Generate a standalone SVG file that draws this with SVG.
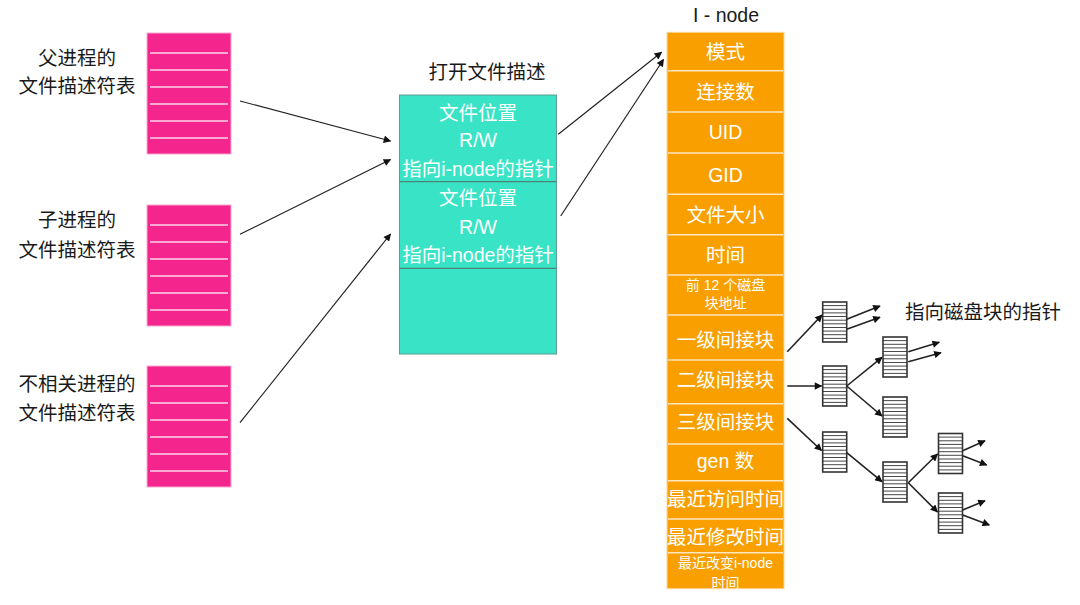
<svg xmlns="http://www.w3.org/2000/svg" width="1080" height="605" viewBox="0 0 1080 605">
<defs>
<marker id="ah" viewBox="0 0 10 10" refX="9" refY="5" markerWidth="10" markerHeight="7.5" markerUnits="userSpaceOnUse" orient="auto">
<path d="M0,0 L10,5 L0,10 z" fill="#111"/>
</marker>
<style>
text{font-family:"Liberation Sans","Noto Sans CJK SC",sans-serif;text-anchor:middle}
.lbl{font-size:19.5px;fill:#1a1a1a}
.w{font-size:19.5px;fill:#ffffff}
.ws{font-size:14px;fill:#ffffff}
.pink{fill:#f5258e;stroke:#f7a9cf;stroke-width:1}
.pl{stroke:#fbd7e8;stroke-width:1.6}
.teal{fill:#38e4c5;stroke:#5e9c90;stroke-width:1}
.tl{stroke:#4f8278;stroke-width:1.2}
.org{fill:#f9a000;stroke:#fcd79a;stroke-width:1}
.ol{stroke:#fde6c0;stroke-width:1.5}
.blk{fill:#ffffff;stroke:#333;stroke-width:1.6}
.bl{stroke:#333;stroke-width:0.9}
.c{fill:none;stroke:#222;stroke-width:1.2;marker-end:url(#ah)}
.t{fill:none;stroke:#222;stroke-width:1.6;marker-end:url(#ah)}
</style>
<g id="fdt">
<rect class="pink" x="0" y="0" width="84" height="121"/>
<line class="pl" x1="3" y1="20" x2="81" y2="20"/>
<line class="pl" x1="3" y1="37" x2="81" y2="37"/>
<line class="pl" x1="3" y1="54" x2="81" y2="54"/>
<line class="pl" x1="3" y1="71" x2="81" y2="71"/>
<line class="pl" x1="3" y1="88" x2="81" y2="88"/>
<line class="pl" x1="3" y1="105" x2="81" y2="105"/>
</g>
<g id="blkdef">
<rect class="blk" x="0" y="0" width="24" height="40"/>
<path class="bl" d="M0,3.6H24M0,7.3H24M0,10.9H24M0,14.5H24M0,18.2H24M0,21.8H24M0,25.5H24M0,29.1H24M0,32.7H24M0,36.4H24"/>
</g>
</defs>
<rect width="1080" height="605" fill="#ffffff"/>

<g id="parent-fdt">
<use href="#fdt" x="147" y="33"/>
<text class="lbl" x="77" y="64.5">父进程的</text>
<text class="lbl" x="77" y="93">文件描述符表</text>
</g>
<g id="child-fdt">
<use href="#fdt" x="147" y="205"/>
<text class="lbl" x="77" y="227">子进程的</text>
<text class="lbl" x="77" y="257">文件描述符表</text>
</g>
<g id="other-fdt">
<use href="#fdt" x="147" y="366"/>
<text class="lbl" x="77" y="391">不相关进程的</text>
<text class="lbl" x="77" y="419.5">文件描述符表</text>
</g>

<g id="open-file-table">
<text class="lbl" x="487" y="78.5">打开文件描述</text>
<rect class="teal" x="399.5" y="95" width="157" height="259"/>
<line class="tl" x1="399.5" y1="181.7" x2="556.5" y2="181.7"/>
<line class="tl" x1="399.5" y1="268.3" x2="556.5" y2="268.3"/>
<text class="w" x="478" y="120">文件位置</text>
<text class="w" x="478" y="147">R/W</text>
<text class="w" x="478" y="175.5">指向i-node的指针</text>
<text class="w" x="478" y="205">文件位置</text>
<text class="w" x="478" y="233.5">R/W</text>
<text class="w" x="478" y="262">指向i-node的指针</text>
</g>

<g id="inode">
<text class="lbl" x="726" y="22">I - node</text>
<rect class="org" x="667" y="32.3" width="117" height="556.4"/>
<g>
<line class="ol" x1="668" y1="70.7" x2="783" y2="70.7"/>
<line class="ol" x1="668" y1="112" x2="783" y2="112"/>
<line class="ol" x1="668" y1="153" x2="783" y2="153"/>
<line class="ol" x1="668" y1="194.3" x2="783" y2="194.3"/>
<line class="ol" x1="668" y1="234.7" x2="783" y2="234.7"/>
<line class="ol" x1="668" y1="275" x2="783" y2="275"/>
<line class="ol" x1="668" y1="315" x2="783" y2="315"/>
<line class="ol" x1="668" y1="360" x2="783" y2="360"/>
<line class="ol" x1="668" y1="403.7" x2="783" y2="403.7"/>
<line class="ol" x1="668" y1="444" x2="783" y2="444"/>
<line class="ol" x1="668" y1="480.7" x2="783" y2="480.7"/>
<line class="ol" x1="668" y1="519" x2="783" y2="519"/>
<line class="ol" x1="668" y1="552.7" x2="783" y2="552.7"/>
</g>
<text class="w" x="725.5" y="58.5">模式</text>
<text class="w" x="725.5" y="98.5">连接数</text>
<text class="w" x="725.5" y="139">UID</text>
<text class="w" x="725.5" y="182">GID</text>
<text class="w" x="725.5" y="222">文件大小</text>
<text class="w" x="725.5" y="262">时间</text>
<text class="ws" x="725.5" y="290">前 12 个磁盘</text>
<text class="ws" x="725.5" y="308.3">块地址</text>
<text class="w" x="725.5" y="347">一级间接块</text>
<text class="w" x="725.5" y="387">二级间接块</text>
<text class="w" x="725.5" y="428.5">三级间接块</text>
<text class="w" x="725.5" y="468">gen 数</text>
<text class="w" x="725.5" y="506.3">最近访问时间</text>
<text class="w" x="725.5" y="543.7">最近修改时间</text>
<text class="ws" x="725.5" y="568.3">最近改变i-node</text>
<text class="ws" x="725.5" y="588">时间</text>
</g>

<g id="disk-blocks">
<use id="blk-a" href="#blkdef" x="822.7" y="302"/>
<use id="blk-b" href="#blkdef" x="822.7" y="366"/>
<use id="blk-c" href="#blkdef" x="883" y="337"/>
<use id="blk-d" href="#blkdef" x="883" y="397"/>
<use id="blk-e" href="#blkdef" x="822.7" y="432"/>
<use id="blk-f" href="#blkdef" x="883" y="462"/>
<use id="blk-g" href="#blkdef" x="938.5" y="433.5"/>
<use id="blk-h" href="#blkdef" x="938.5" y="493"/>
<text class="lbl" x="983" y="318.5">指向磁盘块的指针</text>
</g>

<g id="connectors">
<line class="c" x1="240" y1="101" x2="390.5" y2="141"/>
<line class="c" x1="240" y1="234.3" x2="390.5" y2="159.5"/>
<line class="c" x1="240" y1="422.7" x2="390.5" y2="234"/>
<line class="c" x1="558.3" y1="134.3" x2="661.5" y2="52.3"/>
<line class="c" x1="560.7" y1="216" x2="663.5" y2="59.5"/>
<line class="t" x1="787.3" y1="351.7" x2="822" y2="315"/>
<line class="t" x1="846.7" y1="319.3" x2="880" y2="306"/>
<line class="t" x1="846.7" y1="329.3" x2="880" y2="317.3"/>
<line class="t" x1="787.3" y1="386" x2="821.5" y2="386"/>
<line class="t" x1="846.7" y1="386" x2="882" y2="357.3"/>
<line class="t" x1="846.7" y1="386" x2="882" y2="416"/>
<line class="t" x1="908.3" y1="351.7" x2="939.3" y2="342.3"/>
<line class="t" x1="908.3" y1="361.7" x2="941" y2="352.7"/>
<line class="t" x1="787.3" y1="418.3" x2="821.5" y2="450.5"/>
<line class="t" x1="846.7" y1="452.7" x2="882" y2="481.7"/>
<line class="t" x1="908.3" y1="482.7" x2="937.5" y2="454"/>
<line class="t" x1="908.3" y1="482.7" x2="937.5" y2="512"/>
<line class="t" x1="962.7" y1="450.7" x2="985" y2="440.7"/>
<line class="t" x1="962.7" y1="455.7" x2="986.7" y2="465"/>
<line class="t" x1="962.7" y1="510" x2="985" y2="500.7"/>
<line class="t" x1="962.7" y1="515" x2="989.3" y2="525"/>
</g>
</svg>
